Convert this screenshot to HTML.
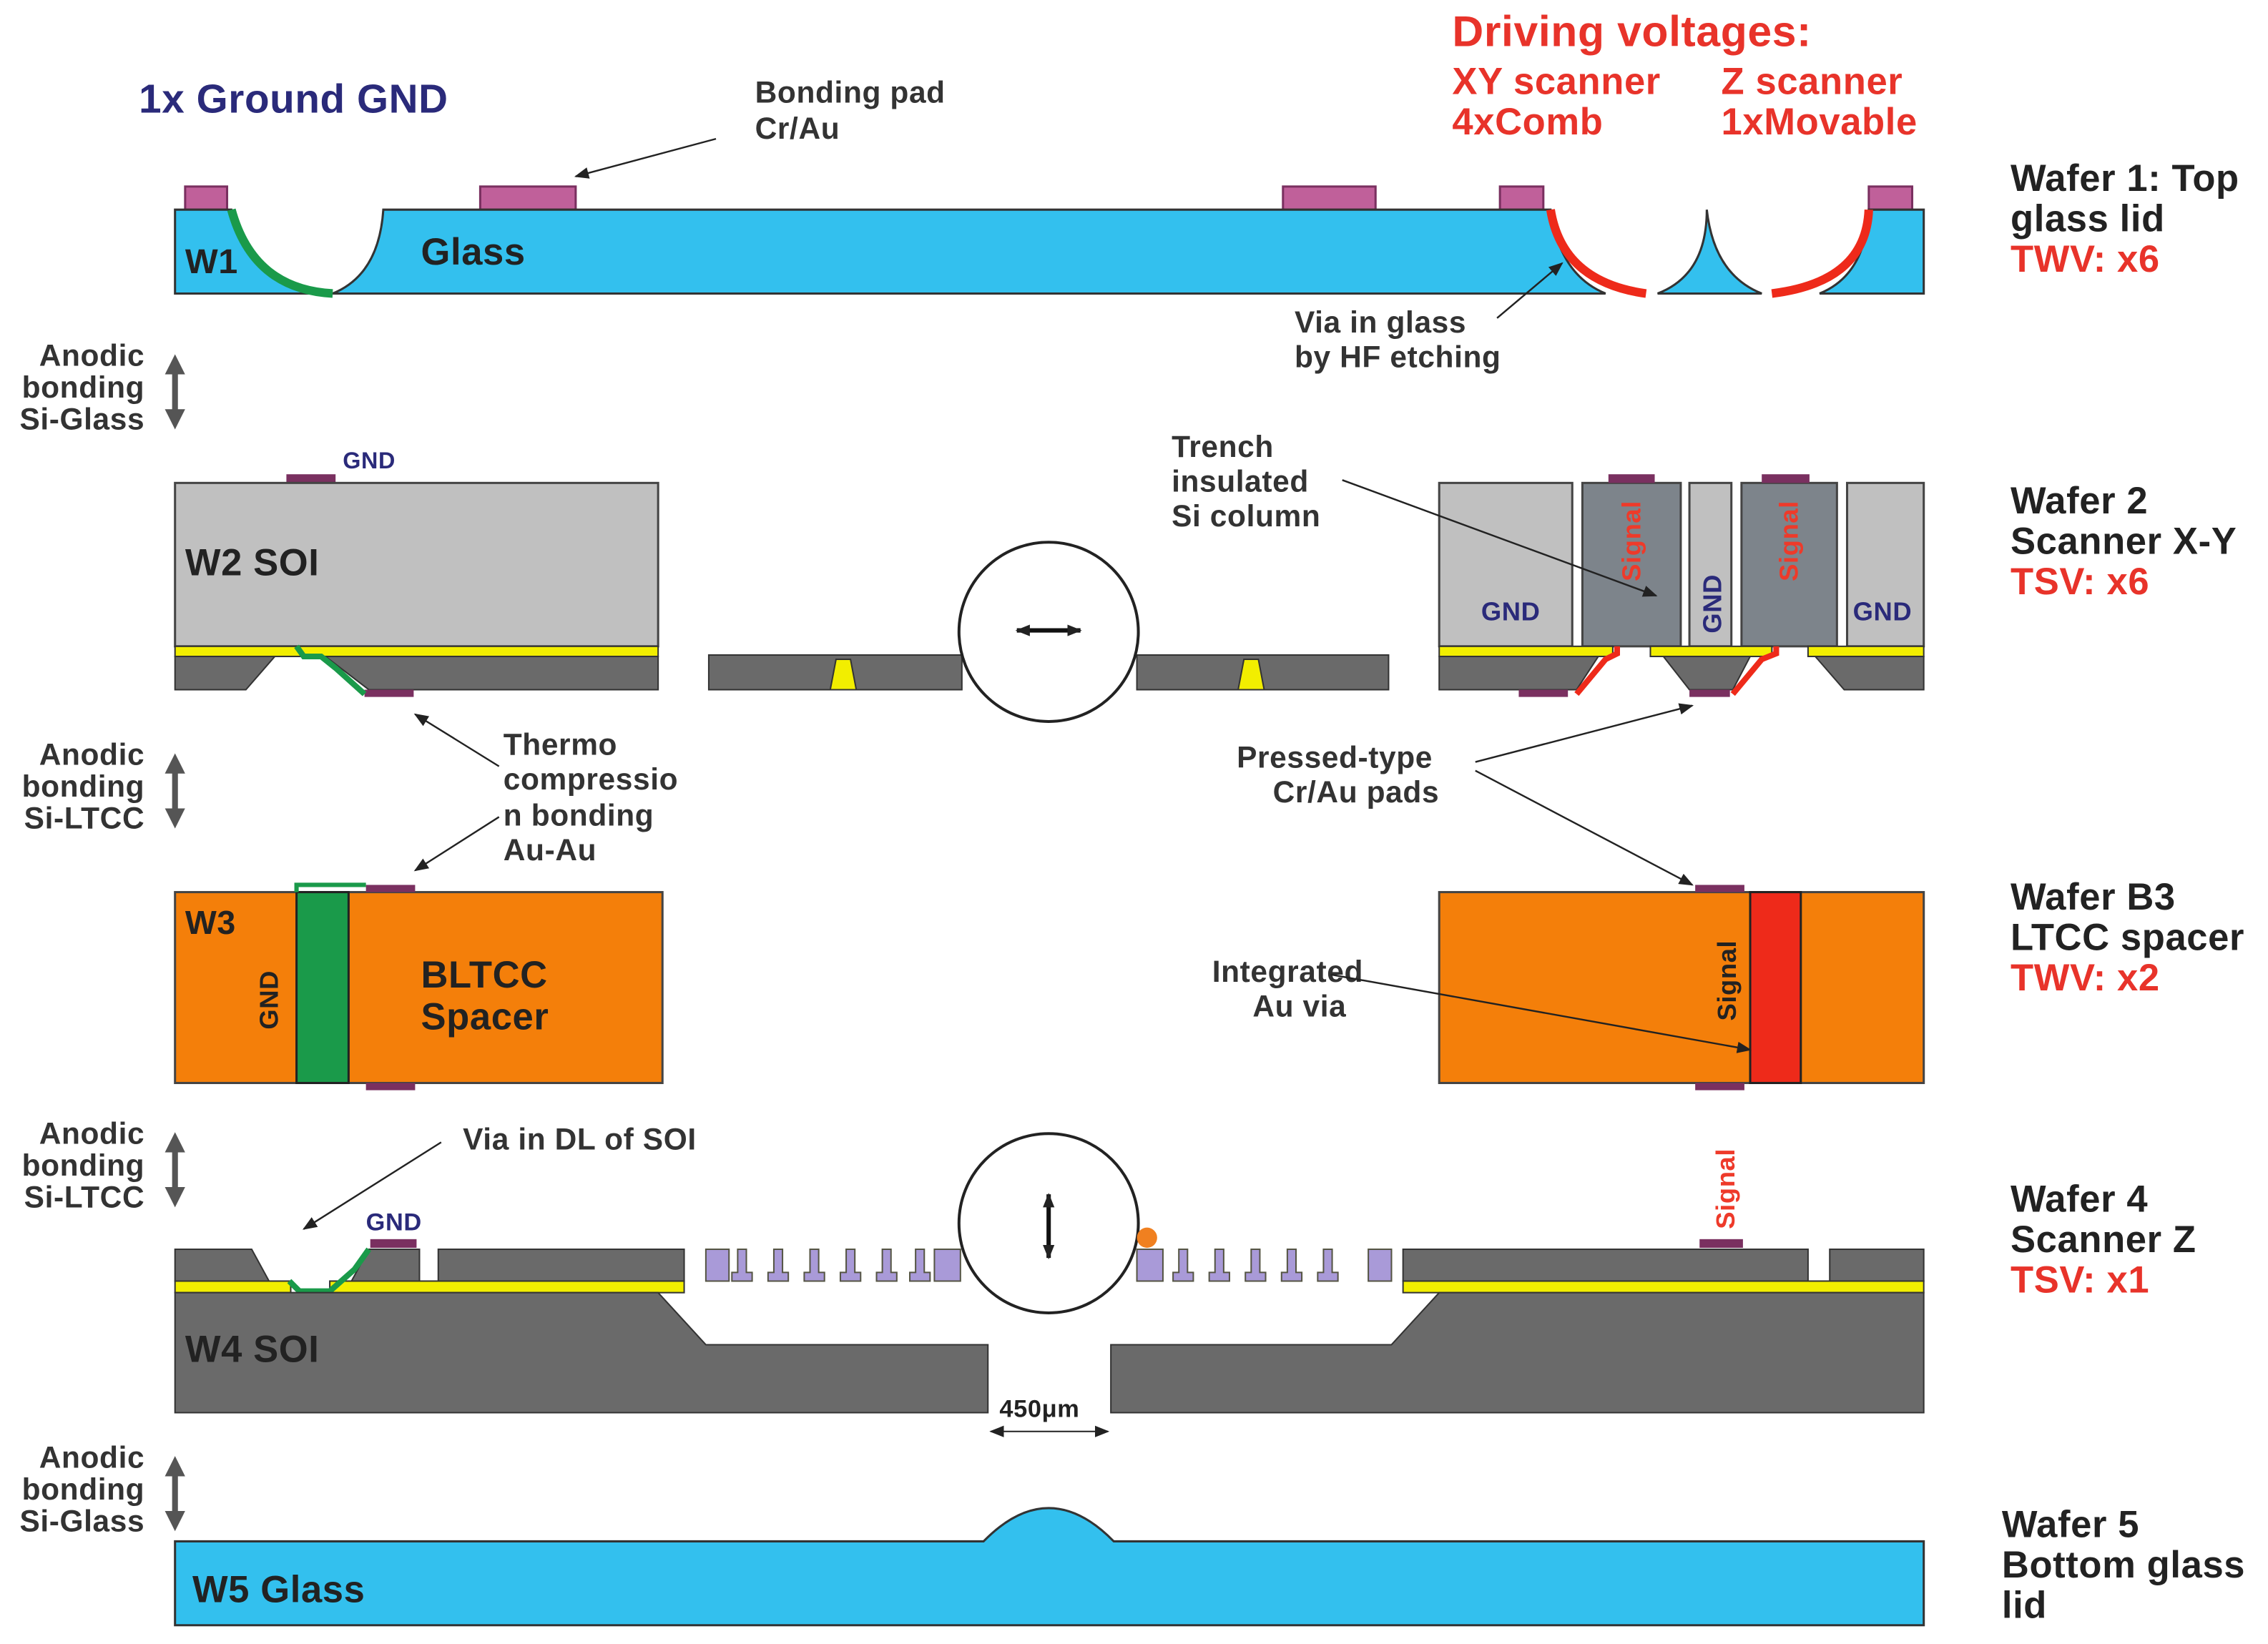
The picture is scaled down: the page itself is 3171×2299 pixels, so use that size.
<!DOCTYPE html>
<html><head><meta charset="utf-8"><style>html,body{margin:0;padding:0;background:#fff}svg{display:block}text{font-family:"Liberation Sans",Arial,sans-serif;font-weight:bold;letter-spacing:0.3px}</style></head><body>
<svg width="3171" height="2299" viewBox="0 0 1568 1137" preserveAspectRatio="none" xmlns="http://www.w3.org/2000/svg">
<defs><marker id="ar" markerWidth="10" markerHeight="8" refX="9" refY="4" orient="auto-start-reverse" markerUnits="userSpaceOnUse"><path d="M0,0 L10,4 L0,8z" fill="#222"/></marker>
<marker id="gr" markerWidth="14" markerHeight="14" refX="7" refY="7" orient="auto-start-reverse" markerUnits="userSpaceOnUse"><path d="M0,0 L14,7 L0,14z" fill="#555"/></marker></defs>
<rect width="1568" height="1137" fill="#fff"/>
<text x="96" y="78" font-size="28" fill="#2a2a7a">1x Ground GND</text>
<text x="522" y="71" font-size="21" fill="#333">Bonding pad</text>
<text x="522" y="96" font-size="21" fill="#333">Cr/Au</text>
<text x="1004" y="32" font-size="30" fill="#e8332a">Driving voltages:</text>
<text x="1004" y="65" font-size="26" fill="#e8332a">XY scanner</text>
<text x="1004" y="93" font-size="26" fill="#e8332a">4xComb</text>
<text x="1190" y="65" font-size="26" fill="#e8332a">Z scanner</text>
<text x="1190" y="93" font-size="26" fill="#e8332a">1xMovable</text>
<g font-size="26" fill="#222">
<text x="1390" y="132">Wafer 1: Top</text><text x="1390" y="160">glass lid</text>
<text x="1390" y="355">Wafer 2</text><text x="1390" y="383">Scanner X-Y</text>
<text x="1390" y="629">Wafer B3</text><text x="1390" y="657">LTCC spacer</text>
<text x="1390" y="838">Wafer 4</text><text x="1390" y="866">Scanner Z</text>
<text x="1384" y="1063">Wafer 5</text><text x="1384" y="1091">Bottom glass</text><text x="1384" y="1119">lid</text>
</g>
<g font-size="26" fill="#e8332a"><text x="1390" y="188">TWV: x6</text><text x="1390" y="411">TSV: x6</text><text x="1390" y="685">TWV: x2</text><text x="1390" y="894">TSV: x1</text></g>
<g font-size="21" fill="#333" text-anchor="end">
<text x="100" y="253">Anodic</text><text x="100" y="275">bonding</text><text x="100" y="297">Si-Glass</text>
<text x="100" y="529">Anodic</text><text x="100" y="551">bonding</text><text x="100" y="573">Si-LTCC</text>
<text x="100" y="791">Anodic</text><text x="100" y="813">bonding</text><text x="100" y="835">Si-LTCC</text>
<text x="100" y="1015">Anodic</text><text x="100" y="1037">bonding</text><text x="100" y="1059">Si-Glass</text>
</g>
<g stroke="#555" stroke-width="4" marker-start="url(#gr)" marker-end="url(#gr)">
<line x1="121" y1="252" x2="121" y2="290"/><line x1="121" y1="528" x2="121" y2="566"/><line x1="121" y1="790" x2="121" y2="828"/><line x1="121" y1="1014" x2="121" y2="1052"/>
</g>
<!-- Wafer 1 -->
<g fill="#c0609a" stroke="#7a3060" stroke-width="1.5">
<rect x="128" y="129" width="29" height="16"/><rect x="332" y="129" width="66" height="16"/><rect x="887" y="129" width="64" height="16"/><rect x="1037" y="129" width="30" height="16"/><rect x="1292" y="129" width="30" height="16"/></g>
<path d="M121,145 H160 Q175,200 230,203 Q262,190 265,145 H1072 Q1078,190 1110,203 H121z" fill="#33c0ee" stroke="#333" stroke-width="1.5"/>
<path d="M1146,203 Q1180,190 1180,145 Q1185,190 1218,203z" fill="#33c0ee" stroke="#333" stroke-width="1.5"/>
<path d="M1258,203 Q1290,190 1292,145 H1330 V203z" fill="#33c0ee" stroke="#333" stroke-width="1.5"/>
<path d="M160,145 Q175,200 230,203" fill="none" stroke="#1a9a4a" stroke-width="6"/>
<path d="M1072,145 Q1080,195 1138,203" fill="none" stroke="#ee2a1a" stroke-width="6"/>
<path d="M1292,145 Q1290,195 1225,203" fill="none" stroke="#ee2a1a" stroke-width="6"/>
<text x="128" y="189" font-size="24" fill="#222">W1</text>
<text x="291" y="183" font-size="26" fill="#222">Glass</text>
<line x1="495" y1="96" x2="398" y2="122" stroke="#222" stroke-width="1.2" marker-end="url(#ar)"/>
<text x="895" y="230" font-size="21" fill="#333">Via in glass</text><text x="895" y="254" font-size="21" fill="#333">by HF etching</text>
<line x1="1035" y1="220" x2="1080" y2="182" stroke="#222" stroke-width="1.2" marker-end="url(#ar)"/>
<!-- Wafer 2 left -->
<rect x="198" y="328" width="34" height="6" fill="#7a3060"/>
<text x="237" y="324" font-size="16" fill="#2a2a7a">GND</text>
<rect x="121" y="334" width="334" height="113" fill="#c0c0c0" stroke="#444" stroke-width="1.5"/>
<text x="128" y="398" font-size="26" fill="#222">W2 SOI</text>
<rect x="121" y="447" width="334" height="7" fill="#f2ee00" stroke="#333" stroke-width="1"/>
<path d="M121,454 H190 L170,477 H121z" fill="#6a6a6a" stroke="#333"/>
<path d="M225,454 H455 V477 H255z" fill="#6a6a6a" stroke="#333"/>
<rect x="252" y="477" width="34" height="5" fill="#7a3060"/>
<path d="M205,447 L210,454 H222 L232,462 L252,480" fill="none" stroke="#1a9a4a" stroke-width="4"/>
<rect x="490" y="453" width="175" height="24" fill="#6a6a6a" stroke="#333"/>
<rect x="786" y="453" width="174" height="24" fill="#6a6a6a" stroke="#333"/>
<path d="M578,456 H588 L592,477 H574z" fill="#f2ee00" stroke="#333"/>
<path d="M860,456 H870 L874,477 H856z" fill="#f2ee00" stroke="#333"/>
<circle cx="725" cy="437" r="62" fill="#fff" stroke="#222" stroke-width="2"/>
<line x1="703" y1="436" x2="747" y2="436" stroke="#111" stroke-width="3" marker-start="url(#ar)" marker-end="url(#ar)"/>
<g stroke="#444" stroke-width="1.5">
<rect x="995" y="334" width="92" height="113" fill="#c0c0c0"/>
<rect x="1094" y="334" width="68" height="113" fill="#7d848b"/>
<rect x="1168" y="334" width="29" height="113" fill="#c0c0c0"/>
<rect x="1204" y="334" width="66" height="113" fill="#7d848b"/>
<rect x="1277" y="334" width="53" height="113" fill="#c0c0c0"/>
</g>
<rect x="1112" y="328" width="32" height="6" fill="#7a3060"/><rect x="1218" y="328" width="33" height="6" fill="#7a3060"/>
<text x="1024" y="429" font-size="18" fill="#2a2a7a">GND</text><text x="1281" y="429" font-size="18" fill="#2a2a7a">GND</text>
<text transform="translate(1190,438) rotate(-90)" font-size="18" fill="#2a2a7a">GND</text>
<text transform="translate(1134,402) rotate(-90)" font-size="18" fill="#ee3a2a">Signal</text>
<text transform="translate(1243,402) rotate(-90)" font-size="18" fill="#ee3a2a">Signal</text>
<g fill="#f2ee00" stroke="#333"><rect x="995" y="447" width="120" height="7"/><rect x="1141" y="447" width="84" height="7"/><rect x="1250" y="447" width="80" height="7"/></g>
<path d="M995,454 H1105 L1090,477 H995z" fill="#6a6a6a" stroke="#333"/>
<path d="M1150,454 H1210 L1198,477 H1168z" fill="#6a6a6a" stroke="#333"/>
<path d="M1255,454 H1330 V477 H1275z" fill="#6a6a6a" stroke="#333"/>
<rect x="1050" y="477" width="34" height="5" fill="#7a3060"/><rect x="1168" y="477" width="28" height="5" fill="#7a3060"/>
<path d="M1118,447 V452 L1110,456 L1090,480" fill="none" stroke="#ee2a1a" stroke-width="4"/>
<path d="M1228,447 V452 L1218,456 L1198,480" fill="none" stroke="#ee2a1a" stroke-width="4"/>
<text x="810" y="316" font-size="21" fill="#333">Trench</text><text x="810" y="340" font-size="21" fill="#333">insulated</text><text x="810" y="364" font-size="21" fill="#333">Si column</text>
<line x1="928" y1="332" x2="1145" y2="412" stroke="#222" stroke-width="1.2" marker-end="url(#ar)"/>
<text x="348" y="522" font-size="21" fill="#333">Thermo</text><text x="348" y="546" font-size="21" fill="#333">compressio</text><text x="348" y="571" font-size="21" fill="#333">n bonding</text><text x="348" y="595" font-size="21" fill="#333">Au-Au</text>
<line x1="345" y1="530" x2="287" y2="494" stroke="#222" stroke-width="1.2" marker-end="url(#ar)"/>
<line x1="345" y1="565" x2="287" y2="602" stroke="#222" stroke-width="1.2" marker-end="url(#ar)"/>
<text x="855" y="531" font-size="21" fill="#333">Pressed-type</text><text x="880" y="555" font-size="21" fill="#333">Cr/Au pads</text>
<line x1="1020" y1="527" x2="1170" y2="488" stroke="#222" stroke-width="1.2" marker-end="url(#ar)"/>
<line x1="1020" y1="533" x2="1170" y2="612" stroke="#222" stroke-width="1.2" marker-end="url(#ar)"/>
<!-- Wafer 3 -->
<rect x="121" y="617" width="337" height="132" fill="#f47f0a" stroke="#444" stroke-width="1.5"/>
<rect x="205" y="617" width="36" height="132" fill="#1a9a4a" stroke="#222" stroke-width="1.5"/>
<rect x="253" y="612" width="34" height="5" fill="#7a3060"/><rect x="253" y="749" width="34" height="5" fill="#7a3060"/>
<path d="M205,617 V612 H253" fill="none" stroke="#1a9a4a" stroke-width="3"/>
<text x="128" y="646" font-size="23" fill="#222">W3</text>
<text transform="translate(192,712) rotate(-90)" font-size="18" fill="#222">GND</text>
<text x="291" y="683" font-size="26" fill="#222">BLTCC</text><text x="291" y="712" font-size="26" fill="#222">Spacer</text>
<rect x="995" y="617" width="335" height="132" fill="#f47f0a" stroke="#444" stroke-width="1.5"/>
<rect x="1210" y="617" width="35" height="132" fill="#ee2a1a" stroke="#222" stroke-width="1.5"/>
<rect x="1172" y="612" width="34" height="5" fill="#7a3060"/><rect x="1172" y="749" width="34" height="5" fill="#7a3060"/>
<text transform="translate(1200,706) rotate(-90)" font-size="18" fill="#222">Signal</text>
<text x="838" y="679" font-size="21" fill="#333">Integrated</text><text x="866" y="703" font-size="21" fill="#333">Au via</text>
<line x1="920" y1="674" x2="1210" y2="726" stroke="#222" stroke-width="1.2" marker-end="url(#ar)"/>
<!-- Wafer 4 -->
<text x="320" y="795" font-size="21" fill="#333">Via in DL of SOI</text>
<line x1="305" y1="790" x2="210" y2="850" stroke="#222" stroke-width="1.2" marker-end="url(#ar)"/>
<text x="253" y="851" font-size="17" fill="#2a2a7a">GND</text>
<rect x="256" y="857" width="32" height="6" fill="#7a3060"/>
<path d="M121,864 H174 L186,886 H121z" fill="#6a6a6a" stroke="#333"/>
<path d="M243,886 L255,864 H290 V886z" fill="#6a6a6a" stroke="#333"/>
<rect x="303" y="864" width="170" height="22" fill="#6a6a6a" stroke="#333"/>
<rect x="970" y="864" width="280" height="22" fill="#6a6a6a" stroke="#333"/>
<rect x="1265" y="864" width="65" height="22" fill="#6a6a6a" stroke="#333"/>
<rect x="1175" y="857" width="30" height="6" fill="#7a3060"/>
<text transform="translate(1199,850) rotate(-90)" font-size="18" fill="#ee3a2a">Signal</text>
<g fill="#f2ee00" stroke="#333"><rect x="121" y="886" width="80" height="8"/><rect x="228" y="886" width="245" height="8"/><rect x="970" y="886" width="360" height="8"/></g>
<path d="M200,886 L207,893 H228 L245,878 L255,864" fill="none" stroke="#1a9a4a" stroke-width="4"/>
<path d="M121,894 H455 L488,930 H683 V977 H121z" fill="#6a6a6a" stroke="#333"/>
<path d="M768,977 V930 H962 L995,894 H1330 V977z" fill="#6a6a6a" stroke="#333"/>
<g fill="#a99ad8" stroke="#554" stroke-width="1">
<rect x="488" y="864" width="16" height="22"/><rect x="946" y="864" width="16" height="22"/>
<rect x="646" y="864" width="18" height="22"/><rect x="786" y="864" width="18" height="22"/>
<path d="M510,864 h6 v16 h4 v6 h-14 v-6 h4z"/><path d="M535,864 h6 v16 h4 v6 h-14 v-6 h4z"/><path d="M560,864 h6 v16 h4 v6 h-14 v-6 h4z"/><path d="M585,864 h6 v16 h4 v6 h-14 v-6 h4z"/><path d="M610,864 h6 v16 h4 v6 h-14 v-6 h4z"/><path d="M633,864 h6 v16 h4 v6 h-14 v-6 h4z"/>
<path d="M815,864 h6 v16 h4 v6 h-14 v-6 h4z"/><path d="M840,864 h6 v16 h4 v6 h-14 v-6 h4z"/><path d="M865,864 h6 v16 h4 v6 h-14 v-6 h4z"/><path d="M890,864 h6 v16 h4 v6 h-14 v-6 h4z"/><path d="M915,864 h6 v16 h4 v6 h-14 v-6 h4z"/>
</g>
<circle cx="725" cy="846" r="62" fill="#fff" stroke="#222" stroke-width="2"/>
<circle cx="793" cy="856" r="7" fill="#f08020"/>
<line x1="725" y1="826" x2="725" y2="870" stroke="#111" stroke-width="3" marker-start="url(#ar)" marker-end="url(#ar)"/>
<text x="128" y="942" font-size="26" fill="#222">W4 SOI</text>
<line x1="685" y1="990" x2="766" y2="990" stroke="#222" stroke-width="1" marker-start="url(#ar)" marker-end="url(#ar)"/>
<text x="691" y="980" font-size="17" fill="#222">450μm</text>
<path d="M121,1066 H680 Q725,1020 770,1066 H1330 V1124 H121z" fill="#33c0ee" stroke="#333" stroke-width="1.5"/>
<text x="133" y="1108" font-size="26" fill="#222">W5 Glass</text>
</svg>
</body></html>
